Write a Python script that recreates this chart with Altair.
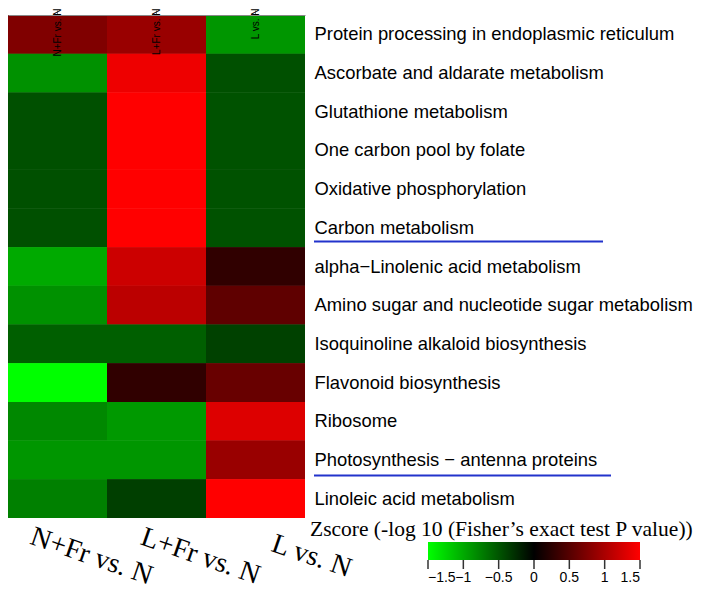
import altair as alt
import pandas as pd

pathways = [
    "Protein processing in endoplasmic reticulum",
    "Ascorbate and aldarate metabolism",
    "Glutathione metabolism",
    "One carbon pool by folate",
    "Oxidative phosphorylation",
    "Carbon metabolism",
    "alpha\u2212Linolenic acid metabolism",
    "Amino sugar and nucleotide sugar metabolism",
    "Isoquinoline alkaloid biosynthesis",
    "Flavonoid biosynthesis",
    "Ribosome",
    "Photosynthesis \u2212 antenna proteins",
    "Linoleic acid metabolism",
]
conditions = ["N+Fr vs. N", "L+Fr vs. N", "L vs. N"]
nfr_vs_n = [0.75, -0.85, -0.47, -0.47, -0.47, -0.47, -1.0, -0.85, -0.56, -1.5, -0.8, -0.88, -0.75]
lfr_vs_n = [0.9, 1.4, 1.5, 1.5, 1.5, 1.5, 1.2, 1.1, -0.56, 0.28, -0.9, -0.88, -0.37]
l_vs_n = [-0.88, -0.47, -0.48, -0.48, -0.48, -0.48, 0.28, 0.56, -0.38, 0.61, 1.3, 0.9, 1.5]
legend_values = [-1.5, -1, -0.5, 0, 0.5, 1, 1.5]
legend_title = ["Zscore (-log 10 (Fisher\u2019s exact test P value))"]
underline_a = ["Carbon metabolism"]
underline_b = ["Photosynthesis \u2212 antenna proteins"]

rows = []
for cond, vals in zip(conditions, [nfr_vs_n, lfr_vs_n, l_vs_n]):
    for p, v in zip(pathways, vals):
        rows.append({"condition": cond, "pathway": p, "z": v})
df = pd.DataFrame(rows)

color_scale = alt.Scale(domain=[-1.5, 0, 1.5], range=["#00ff00", "#000000", "#ff0000"],
                        interpolate="rgb")

label_offset = alt.ExprRef(
    "datum.value == 'L vs. N' ? 56 : (datum.value == 'L+Fr vs. N' ? 44 : 34)")

heat = alt.Chart(df).mark_rect().encode(
    x=alt.X("condition:N", sort=conditions, title=None,
            axis=alt.Axis(orient="bottom", ticks=False, domain=False, labelAngle=19,
                          labelAlign="center", labelBaseline="middle", labelPadding=38,
                          labelOffset=label_offset, labelFont="Liberation Serif",
                          labelFontSize=28, labelColor="black", labelLimit=300)),
    y=alt.Y("pathway:N", sort=pathways, title=None,
            axis=alt.Axis(orient="right", ticks=False, domain=False, labelPadding=9,
                          labelFont="Liberation Sans", labelFontSize=18.4,
                          labelColor="black", labelLimit=400)),
    color=alt.Color("z:Q", scale=color_scale,
                    legend=alt.Legend(type="gradient", orient="none", legendX=420,
                                      legendY=527, direction="horizontal",
                                      gradientLength=212, gradientThickness=18,
                                      title=None, padding=0,
                                      values=legend_values, format=".1~f",
                                      labelAlign="center",
                                      labelFont="Liberation Sans",
                                      labelFontSize=14, labelOffset=11, labelColor="black",
                                      labelOverlap=False, gradientStrokeWidth=0)),
)

# second identical pass hides anti-aliasing seams between adjacent cells
heat2 = alt.Chart(df).mark_rect().encode(
    x=alt.X("condition:N", sort=conditions, title=None),
    y=alt.Y("pathway:N", sort=pathways, title=None),
    color=alt.Color("z:Q", scale=color_scale),
)

ticks_df = pd.DataFrame({"v": legend_values})
ticks = alt.Chart(ticks_df).mark_rule(color="#333333", strokeWidth=1.5).encode(
    x=alt.X("v:Q", scale=alt.Scale(domain=[-1.5, 1.5], range=[420, 632]), axis=None),
    y=alt.value(545),
    y2=alt.value(554),
)

title_text = alt.Chart(pd.DataFrame({"t": legend_title})).mark_text(
    align="left", baseline="alphabetic", font="Liberation Serif", fontSize=21.5,
    color="black").encode(
    text="t:N",
    x=alt.value(302),
    y=alt.value(521),
)

ul_a = alt.Chart(pd.DataFrame({"pathway": underline_a})).mark_rule(
    color="#2233cc", strokeWidth=2).encode(
    y=alt.Y("pathway:N", sort=pathways),
    yOffset=alt.value(33),
    x=alt.value(306),
    x2=alt.value(595),
)
ul_b = alt.Chart(pd.DataFrame({"pathway": underline_b})).mark_rule(
    color="#2233cc", strokeWidth=2).encode(
    y=alt.Y("pathway:N", sort=pathways),
    yOffset=alt.value(35),
    x=alt.value(306),
    x2=alt.value(603),
)

chart = alt.layer(heat, heat2, ticks, title_text, ul_a, ul_b).resolve_scale(
    x="independent").properties(
    width=297, height=503, padding=0
).configure_view(stroke=None)

chart.save("out.html", embed_options={"renderer": "svg", "actions": False})
